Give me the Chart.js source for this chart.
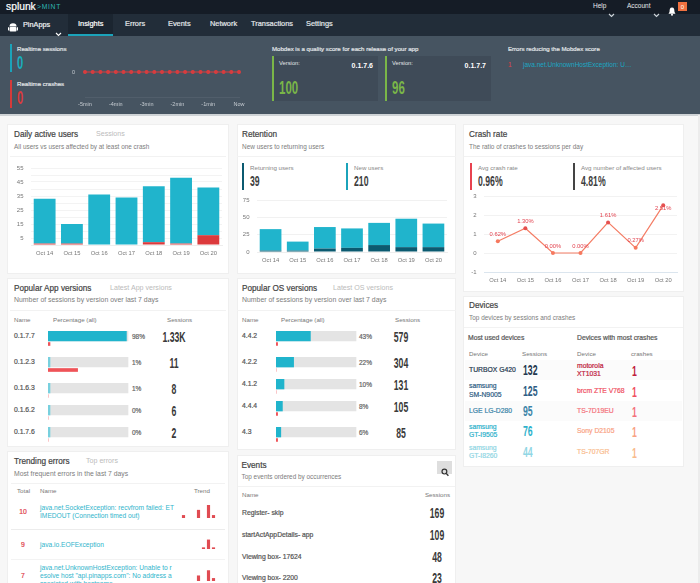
<!DOCTYPE html>
<html>
<head>
<meta charset="utf-8">
<script src="https://cdn.jsdelivr.net/npm/chart.js@4"></script>
<style>
  html, body { margin: 0; padding: 0; background: #f7f7f7; }
  #page { position: relative; width: 700px; height: 583px; overflow: hidden; font-family: "Liberation Sans", Arial, sans-serif; }
  .box { position: absolute; box-sizing: border-box; }
  .panel { position: absolute; box-sizing: border-box; background: #fff; border: 1px solid #efefef; }
  .t { position: absolute; white-space: nowrap; transform: translateY(-50%); line-height: 1; }
  .num { font-weight: 700; transform: translateY(-50%) scaleX(0.62); transform-origin: left center; }
  canvas { position: absolute; display: block; }
</style>
</head>
<body>
<div id="page"></div>
<script>
/* Chart data */
const days = ["Oct 14", "Oct 15", "Oct 16", "Oct 17", "Oct 18", "Oct 19", "Oct 20"];
const dauUsers = [32, 14, 36, 34, 40, 47, 34];
const dauCrashed = [1, 1, 0, 0, 2, 1, 7];
const newUsers = [31, 13, 31, 28, 32, 41, 34];
const returningUsers = [2, 2, 5, 6, 10, 7, 7];
const crashRate = [0.62, 1.3, 0, 0, 1.61, 0.27, 2.51];
const realtimeLabels = ["-5min", "", "", "", "-4min", "", "", "", "-3min", "", "", "", "-2min", "", "", "", "-1min", "", "", "", "Now"];
const realtimeCrashes = [0, 0, 0, 0, 0, 0, 0, 0, 0, 0, 0, 0, 0, 0, 0, 0, 0, 0, 0, 0, 0];

const appNames = ["0.1.7.7", "0.1.2.3", "0.1.6.3", "0.1.6.2", "0.1.7.6"];
const appPct = [98, 1, 1, 0, 0];
const appCrashPct = [2.5, 37, 0, 0, 0];
const appSessions = ["1.33K", "11", "8", "6", "2"];

const osNames = ["4.4.2", "4.2.2", "4.1.2", "4.4.4", "4.3"];
const osPct = [43, 22, 10, 8, 6];
const osCrashPct = [2, 0, 0, 2, 2];
const osSessions = ["579", "304", "131", "105", "85"];

const usedDevices = [["TURBOX G420"], ["samsung", "SM-N9005"], ["LGE LG-D280"], ["samsung", "GT-I9505"], ["samsung", "GT-I8260"]];
const usedSessions = ["132", "125", "95", "76", "44"];
const crashDevices = [["motorola", "XT1031"], ["brcm ZTE V768"], ["TS-7D19EU"], ["Sony D2105"], ["TS-707GR"]];
const crashCounts = ["1", "1", "1", "1", "1"];

const errorTotals = ["10", "9", "7"];
const errorNames = [
  ["java.net.SocketException: recvfrom failed: ET", "IMEDOUT (Connection timed out)"],
  ["java.io.EOFException"],
  ["java.net.UnknownHostException: Unable to r", "esolve host \"api.pinapps.com\": No address a", "ssociated with hostname"],
];
const errorTrends = [
  [1, 0, 0, 3, 0, 5, 1],
  [0, 0, 0, 0, 1, 7, 1],
  [0, 0, 0, 2, 0, 4, 1],
];

const eventNames = ["Register- skip", "startActAppDetails- app", "Viewing box- 17624", "Viewing box- 2200"];
const eventSessions = ["169", "109", "48", "23"];

const CYAN = "#20b4cc";
const TEAL = "#1ba3ba";
const DARK_TEAL = "#0b5a70";
const RED = "#dc3a3c";
const GREEN = "#7ab648";

const page = document.getElementById("page");

function box(x, y, w, h, bg, cls) {
  const d = document.createElement("div");
  d.className = cls || "box";
  d.style.cssText = `left:${x}px;top:${y}px;width:${w}px;height:${h}px;` + (bg ? `background:${bg};` : "");
  page.appendChild(d);
  return d;
}

function text(x, y, str, size, color, opts = {}) {
  const s = document.createElement("span");
  s.className = "t" + (opts.num ? " num" : "");
  s.textContent = str;
  s.style.fontSize = size + "px";
  s.style.color = color;
  s.style.top = y + "px";
  if (opts.bold) s.style.fontWeight = "700";
  if (opts.semi) s.style.webkitTextStroke = "0.2px " + color;
  if (opts.spacing) s.style.letterSpacing = opts.spacing + "px";
  if (opts.right) {
    s.style.right = 700 - x + "px";
  } else if (opts.center) {
    s.style.left = x + "px";
    s.style.transform = "translate(-50%,-50%)" + (opts.num ? " scaleX(0.62)" : "");
    s.style.transformOrigin = "center center";
  } else {
    s.style.left = x + "px";
  }
  page.appendChild(s);
  return s;
}

function svg(x, y, w, h, inner) {
  const d = box(x, y, w, h);
  d.innerHTML = `<svg width="${w}" height="${h}" viewBox="0 0 ${w} ${h}">${inner}</svg>`;
}

const chevron = (x, y, c) =>
  svg(x, y, 7, 5, `<path d="M1 1 L3.5 3.5 L6 1" fill="none" stroke="${c}" stroke-width="1.1"/>`);

// places a canvas so that the plot area lands on x0..x1 / y0..y1
function plotCanvas(x0, y0, x1, y1, yw, xh, top, right = 4) {
  const c = document.createElement("canvas");
  const w = x1 - x0 + yw + right;
  const h = y1 - y0 + xh + top;
  c.width = w;
  c.height = h;
  c.style.cssText = `left:${x0 - yw}px;top:${y0 - top}px;width:${w}px;height:${h}px;`;
  page.appendChild(c);
  return c;
}

function baseOptions(yw, xh, top, xPad, right = 4) {
  return {
    responsive: false,
    animation: false,
    layout: { autoPadding: false, padding: { top, right, left: 0, bottom: 0 } },
    plugins: { legend: { display: false }, tooltip: { enabled: false } },
    scales: {
      x: {
        afterFit: (s) => { s.height = xh; s.paddingLeft = 0; s.paddingRight = 0; },
        grid: { display: false, drawTicks: false },
        ticks: { color: "#777", font: { size: 5.8 }, padding: xPad, maxRotation: 0, autoSkip: false },
      },
      y: {
        afterFit: (s) => { s.width = yw; s.paddingTop = 0; s.paddingBottom = 0; },
        ticks: { color: "#777", font: { size: 6 }, padding: 7.5, autoSkip: false },
      },
    },
  };
}

Chart.defaults.font.family = '"Liberation Sans", Arial, sans-serif';

/* Header and hero */
box(0, 0, 700, 14, "#151c26");
box(0, 14, 700, 22, "#222d39");
box(68, 14, 45, 22, "#1b2530");
box(68, 34, 45, 2, TEAL);
box(0, 36, 700, 78, "#465461");
box(0, 114, 700, 1.5, "#cfd3d6");

text(6, 6.5, "splunk", 10.3, "#fff", { semi: true });
text(37, 6.5, ">MINT", 6.8, "#2fb5b5", { spacing: 0.7 });
svg(8, 19, 10, 11,
  `<path d="M1.5 4.5 a3.5 3.2 0 0 1 7 0 z" fill="#fff"/><rect x="1.5" y="5" width="7" height="4.5" rx="1" fill="#fff"/>` +
  `<rect x="0" y="5" width="1" height="3.6" rx=".5" fill="#fff"/><rect x="9" y="5" width="1" height="3.6" rx=".5" fill="#fff"/>`);
text(23, 24.5, "PinApps", 7.3, "#eef1f3", { semi: true });
chevron(55, 22.5, "#fff");
const navItems = ["Insights", "Errors", "Events", "Network", "Transactions", "Settings"];
const navX = [78, 125, 168, 210, 251, 306];
navItems.forEach((n, i) => text(navX[i], 23.5, n, 7.4, i === 0 ? "#fff" : "#e3e7ea", { semi: true }));
text(593, 6, "Help", 6.5, "#e6e9ec");
chevron(608, 3.5, "#cfd5da");
text(627, 6, "Account", 6.5, "#e6e9ec");
chevron(653, 3.5, "#cfd5da");
svg(668, 2, 8, 9, `<path d="M4 0.5 C1.8 0.5 1.6 2.5 1.6 4.2 C1.6 5.5 .6 6 .6 6.8 H7.4 C7.4 6 6.4 5.5 6.4 4.2 C6.4 2.5 6.2 .5 4 .5 z" fill="#fff"/><circle cx="4" cy="7.8" r="1" fill="#fff"/>`);
box(678, 2, 9, 9, "#ef7140");
text(682.5, 6.5, "0", 6, "#fff", { center: true });

box(10, 44, 2, 28, TEAL);
text(17, 48.5, "Realtime sessions", 6.1, "#e1e5e8", { semi: true });
text(17, 63, "0", 18, "#19aebf", { num: true });
box(10, 80, 2, 28, "#d63a3a");
text(17, 84, "Realtime crashes", 6.1, "#e1e5e8", { semi: true });
text(17, 98, "0", 18, "#dc3a3c", { num: true });

text(272, 48.5, "Mobdex is a quality score for each release of your app", 6.1, "#e1e5e8", { semi: true });
const cardX = [272, 385];
const cardVersions = ["0.1.7.6", "0.1.7.7"];
const cardScores = ["100", "96"];
cardX.forEach((x, i) => {
  box(x, 56, 106, 45, "#3f4b58");
  box(x, 56, 2, 45, GREEN);
  text(x + 7, 64, "Version:", 5.8, "#e1e5e8");
  text(x + 101, 65, cardVersions[i], 7, "#fff", { right: true, bold: true });
  text(x + 7, 88, cardScores[i], 18.5, GREEN, { num: true });
});
text(508, 48.5, "Errors reducing the Mobdex score", 6.1, "#e1e5e8", { semi: true });
text(508, 65, "1", 6.5, "#e0404a");
text(523, 65, "java.net.UnknownHostException: U…", 6.5, "#1ba8c4");

/* Realtime chart */
{
  const opts = baseOptions(19, 17, 2, 4, 12);
  opts.scales.x.border = { color: "#515e6b" };
  opts.scales.x.ticks.color = "#c6ccd2";
  opts.scales.x.ticks.font = { size: 5.5 };
  opts.scales.x.offset = false;
  opts.scales.y.min = -1;
  opts.scales.y.max = 1;
  opts.scales.y.grid = { display: false, drawTicks: false };
  opts.scales.y.border = { display: false };
  opts.scales.y.ticks = { color: "#c6ccd2", font: { size: 5.5 }, padding: 10, stepSize: 1, callback: (v) => (v === 0 ? "0" : "") };
  new Chart(plotCanvas(85, 47, 239, 97, 19, 17, 2, 12), {
    type: "line",
    data: {
      labels: realtimeLabels,
      datasets: [{ data: realtimeCrashes, borderColor: "#d83d3f", backgroundColor: "#d83d3f", borderWidth: 1.2, pointRadius: 1.4 }],
    },
    options: opts,
  });
}

/* Panels */
box(7, 124, 222, 150, null, "panel");
box(237, 124, 219, 150, null, "panel");
box(463, 124, 221, 168, null, "panel");
box(7, 278, 222, 169, null, "panel");
box(237, 278, 219, 172, null, "panel");
box(463, 296, 221, 171, null, "panel");
box(7, 451, 222, 140, null, "panel");
box(237, 455, 219, 140, null, "panel");
box(698, 115, 2, 468, "#ececec");

function panelHead(x, y, title, alt, altX, sub, subSize, divX, divW) {
  text(x, y, title, 8.2, "#444", { semi: true });
  if (alt) text(altX, y, alt, 7.1, "#bbb");
  text(x, y + 11.5, sub, subSize, "#7c7c7c");
  box(divX, y + 21, divW, 1, "#f2f2f2");
}

function stat(x, label, value, color) {
  box(x, 163, 1.5, 27, color);
  text(x + 8, 168, label, 6.2, "#888");
  text(x + 8, 181, value, 14, "#3e3e3e", { num: true });
}

/* Daily active users */
panelHead(14, 135, "Daily active users", "Sessions", 96, "All users vs users affected by at least one crash", 6.4, 10, 216);
{
  const opts = baseOptions(24, 14, 6, 4.5);
  opts.scales.x.stacked = true;
  opts.scales.x.border = { color: "#eeeeee" };
  opts.scales.y.stacked = true;
  opts.scales.y.min = 0;
  opts.scales.y.max = 55;
  opts.scales.y.grid = { color: "#f3f3f3", drawTicks: false };
  opts.scales.y.border = { display: false };
  opts.scales.y.ticks.stepSize = 5;
  opts.scales.y.ticks.callback = (v) => (v % 10 === 5 ? String(v) : "");
  new Chart(plotCanvas(30.5, 168, 221.5, 245, 24, 14, 6), {
    type: "bar",
    data: {
      labels: days,
      datasets: [
        { data: dauCrashed, backgroundColor: RED, categoryPercentage: 1, barPercentage: 0.8 },
        { data: dauUsers, backgroundColor: CYAN, categoryPercentage: 1, barPercentage: 0.8 },
      ],
    },
    options: opts,
  });
}

/* Retention */
panelHead(242, 135, "Retention", null, 0, "New users to returning users", 6.45, 237, 219);
stat(242, "Returning users", "39", DARK_TEAL);
stat(346, "New users", "210", TEAL);
{
  const opts = baseOptions(18, 14, 6, 5);
  opts.scales.x.stacked = true;
  opts.scales.x.border = { color: "#eeeeee" };
  opts.scales.y.stacked = true;
  opts.scales.y.min = 0;
  opts.scales.y.max = 75;
  opts.scales.y.grid = { color: "#f1f1f1", drawTicks: false };
  opts.scales.y.border = { display: false };
  opts.scales.y.ticks.stepSize = 25;
  new Chart(plotCanvas(257, 200, 447.4, 252, 18, 14, 6), {
    type: "bar",
    data: {
      labels: days,
      datasets: [
        { data: returningUsers, backgroundColor: DARK_TEAL, categoryPercentage: 1, barPercentage: 0.8 },
        { data: newUsers, backgroundColor: CYAN, categoryPercentage: 1, barPercentage: 0.8 },
      ],
    },
    options: opts,
  });
}

/* Crash rate */
panelHead(469, 135, "Crash rate", null, 0, "The ratio of crashes to sessions per day", 6.45, 464, 219);
stat(470, "Avg crash rate", "0.96%", "#e8424f");
stat(573, "Avg number of affected users", "4.81%", "#444");
{
  const crashLabels = {
    id: "crashLabels",
    afterDatasetsDraw(chart) {
      const { ctx } = chart;
      const points = chart.getDatasetMeta(0).data;
      ctx.save();
      ctx.font = '5.8px "Liberation Sans", sans-serif';
      ctx.fillStyle = "#e2434f";
      ctx.textAlign = "center";
      ctx.textBaseline = "middle";
      points.forEach((p, i) => {
        const dy = i === points.length - 1 ? 3 : -7;
        ctx.fillText(crashRate[i].toFixed(2) + "%", p.x, p.y + dy);
      });
      ctx.restore();
    },
  };
  const opts = baseOptions(20, 14, 6, 5);
  opts.scales.x.offset = true;
  opts.scales.x.border = { color: "#dbe5ee" };
  opts.scales.y.min = -1;
  opts.scales.y.max = 3;
  opts.scales.y.grid = { color: "#f2f2f2", drawTicks: false };
  opts.scales.y.border = { display: false };
  opts.scales.y.ticks.stepSize = 1;
  new Chart(plotCanvas(483.5, 195.5, 676.5, 272, 20, 14, 6), {
    type: "line",
    data: {
      labels: days,
      datasets: [{
        data: crashRate,
        borderColor: "#f47c64",
        borderWidth: 1.2,
        tension: 0,
        pointRadius: 2,
        pointBackgroundColor: (c) => (c.raw > 1 ? "#e5504f" : "#f6795f"),
        pointBorderWidth: 0,
      }],
    },
    options: opts,
    plugins: [crashLabels],
  });
}

/* Version tables */
function pctBar(x, y, pct, crash) {
  const c = document.createElement("canvas");
  c.width = 82;
  c.height = 15;
  c.style.cssText = `left:${x}px;top:${y}px;width:82px;height:15px;`;
  page.appendChild(c);
  new Chart(c, {
    type: "bar",
    data: {
      labels: ["value", "crash"],
      datasets: [
        { data: [pct, null], backgroundColor: pct < 5 ? "#78d0de" : CYAN, barThickness: 10, minBarLength: 2, grouped: false, clip: false },
        { data: [100, null], backgroundColor: "#e4e4e4", barThickness: 10, grouped: false, clip: false },
        { data: [null, crash], backgroundColor: "#ef5358", barThickness: 3, grouped: false, clip: false },
      ],
    },
    options: {
      indexAxis: "y",
      responsive: false,
      animation: false,
      layout: { autoPadding: false, padding: { top: 5, bottom: 2, left: 0, right: 2 } },
      plugins: { legend: { display: false }, tooltip: { enabled: false } },
      scales: {
        x: { display: false, min: 0, max: 100 },
        y: { display: false, offset: false },
      },
    },
  });
}

function versionTable(x, headY, barX, pctX, valX, sessX, names, pct, crash, sessions, tops) {
  text(x, headY, "Name", 6.2, "#777");
  text(barX + 5, headY, "Percentage (all)", 6.2, "#777");
  text(sessX, headY, "Sessions", 6.2, "#777");
  names.forEach((n, i) => {
    const mid = tops[i] + 5;
    text(x, mid - 0.5, n, 6.8, "#555", { semi: true });
    pctBar(barX, tops[i], pct[i], crash[i]);
    text(pctX, mid + 0.5, pct[i] + "%", 6.5, "#666", { semi: true });
    text(valX, mid + 1, sessions[i], 14, "#3a3a3a", { num: true, center: true });
  });
}

panelHead(14, 288.7, "Popular App versions", "Latest App versions", 110, "Number of sessions by version over last 7 days", 6.9, 10, 216);
versionTable(14, 320, 48, 132, 174, 167, appNames, appPct, appCrashPct, appSessions, [331, 357, 383, 405, 427]);

panelHead(242, 288.7, "Popular OS versions", "Latest OS versions", 333, "Number of sessions by version over last 7 days", 6.9, 237, 219);
versionTable(242, 320, 276, 359, 401, 395, osNames, osPct, osCrashPct, osSessions, [331, 357, 379, 401, 427]);

/* Devices */
panelHead(469, 306, "Devices", null, 0, "Top devices by sessions and crashes", 6.45, 464, 219);
text(468, 338, "Most used devices", 6.8, "#555", { semi: true });
text(577, 338, "Devices with most crashes", 6.8, "#555", { semi: true });
text(469, 354, "Device", 6.2, "#777");
text(522, 354, "Sessions", 6.2, "#777");
text(577, 354, "Device", 6.2, "#777");
text(631, 354, "crashes", 6.2, "#777");
const deviceRowY = [370, 390.5, 410.5, 431, 452];
const usedColors = ["#24384f", "#2e5d84", "#3c85a9", "#2fb2cc", "#90d6e4"];
const crashColors = ["#c0203c", "#f0505f", "#f4727b", "#f9a283", "#f9bb8c"];
function deviceName(x, mid, lines, color) {
  lines.forEach((l, j) => text(x, mid + (j - (lines.length - 1) / 2) * 8.2, l, 6.8, color, { semi: true }));
}
[370, 410.5].forEach((y) => box(465, y - 10, 217, 20, "#fbfbfb"));
deviceRowY.forEach((y, i) => {
  deviceName(469, y, usedDevices[i], usedColors[i]);
  text(523, y, usedSessions[i], 14, usedColors[i], { num: true });
  deviceName(577, y, crashDevices[i], crashColors[i]);
  text(632, y + 1, crashCounts[i], 14, crashColors[i], { num: true });
});

/* Trending errors */
panelHead(14, 462, "Trending errors", "Top errors", 86, "Most frequent errors in the last 7 days", 6.8, 11, 214);
text(17, 490.5, "Total", 6.2, "#777");
text(40, 490.5, "Name", 6.2, "#777");
text(194, 490.5, "Trend", 6.2, "#777");
const errorMidY = [512, 544.5, 576];
const trendBottom = [517.5, 549, 581];
errorTotals.forEach((t, i) => {
  text(23, errorMidY[i], t, 6.8, "#e0404a", { center: true, semi: true });
  const lines = errorNames[i];
  const first = i === 2 ? 567.5 : errorMidY[i] - (lines.length - 1) * 4.2;
  lines.forEach((l, j) => text(40, first + j * 8.4, l, 6.65, "#2fb4cb"));
  const c = document.createElement("canvas");
  c.width = 35;
  c.height = 13;
  c.style.cssText = `left:181px;top:${trendBottom[i] - 13}px;width:35px;height:13px;`;
  page.appendChild(c);
  new Chart(c, {
    type: "bar",
    data: {
      labels: errorTrends[i].map((_, k) => k),
      datasets: [{ data: errorTrends[i], backgroundColor: (ctx) => (ctx.raw > 0 ? "#e04b52" : "transparent"), barThickness: 2.5 }],
    },
    options: {
      responsive: false,
      animation: false,
      plugins: { legend: { display: false }, tooltip: { enabled: false } },
      scales: { x: { display: false }, y: { display: false, min: 0 } },
    },
  });
});
box(11, 528.5, 214, 1, "#ececec");
box(11, 558.5, 214, 1, "#f3f3f3");

/* Events */
text(241.5, 466, "Events", 8.2, "#444", { semi: true });
text(241.5, 476.7, "Top events ordered by occurrences", 6.4, "#7c7c7c");
box(238, 486, 217, 1, "#f2f2f2");
box(437, 461, 15, 13, "#dedede");
svg(441, 463, 8, 9, `<circle cx="3.4" cy="3.6" r="2.4" fill="none" stroke="#333" stroke-width="1.2"/><path d="M5.2 5.4 L7.4 7.8" stroke="#333" stroke-width="1.4"/>`);
text(242, 495, "Name", 6.2, "#777");
text(450, 495, "Sessions", 6.2, "#777", { right: true });
const eventY = [513, 534.5, 556.5, 578];
eventNames.forEach((n, i) => {
  text(242, eventY[i], n, 6.8, "#555", { semi: true });
  text(437, eventY[i], eventSessions[i], 14, "#3a3a3a", { num: true, center: true });
});
</script>
</body>
</html>
